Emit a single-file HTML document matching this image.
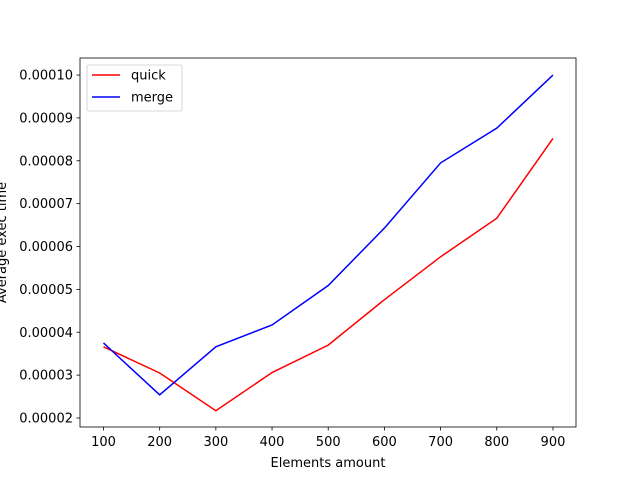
<!DOCTYPE html>
<html><head><meta charset="utf-8"><style>
body{margin:0;background:#fff}
svg text{font-family:"DejaVu Sans","Liberation Sans",sans-serif;font-size:13px;fill:#000}
</style></head><body>
<svg id="chart" width="640" height="480" xmlns="http://www.w3.org/2000/svg">
<rect width="640" height="480" fill="#fff"/>
<g id="plot"></g>
</svg>
<script>
const categories=[100,200,300,400,500,600,700,800,900];
const quickValues=[3.66e-5,3.05e-5,2.17e-5,3.06e-5,3.70e-5,4.76e-5,5.76e-5,6.66e-5,8.52e-5];
const mergeValues=[3.75e-5,2.54e-5,3.66e-5,4.17e-5,5.09e-5,6.43e-5,7.95e-5,8.76e-5,1.0e-4];
const xTicks=[100,200,300,400,500,600,700,800,900];
const yTicks=[2e-5,3e-5,4e-5,5e-5,6e-5,7e-5,8e-5,9e-5,1e-4];
const yTickLabels=["0.00002","0.00003","0.00004","0.00005","0.00006","0.00007","0.00008","0.00009","0.00010"];

const L=80,R=576,T=58,B=427;
const xMin=58.2,xMax=941.0,yMin=1.79e-5,yMax=1.0397e-4;
const xs=v=>L+(v-xMin)/(xMax-xMin)*(R-L);
const ys=v=>B-(v-yMin)/(yMax-yMin)*(B-T);
const NS="http://www.w3.org/2000/svg";
const g=document.getElementById('plot');
function mk(tag,attrs,parent){const e=document.createElementNS(NS,tag);for(const k in attrs)e.setAttribute(k,attrs[k]);(parent||g).appendChild(e);return e;}

xTicks.forEach(v=>{
  const x=xs(v);
  const t=mk('line',{x1:x,x2:x,y1:B,y2:B+3.5,stroke:'#000','stroke-width':0.8});
  
  
  const l=mk('text',{x:x,y:B+19,'text-anchor':'middle'});l.textContent=v;
  
  
});
yTicks.forEach((v,i)=>{
  const y=ys(v);
  const t=mk('line',{x1:L-3.5,x2:L,y1:y,y2:y,stroke:'#000','stroke-width':0.8});
  
  
  const l=mk('text',{x:L-7,y:y+4.5,'text-anchor':'end'});l.textContent=yTickLabels[i];
  
  
});
function series(vals,color,name){
  const p=mk('polyline',{points:categories.map((c,i)=>xs(c)+','+ys(vals[i])).join(' '),fill:'none',stroke:color,'stroke-width':1.5});
  
  
}
series(quickValues,'#ff0000','quick-line');
series(mergeValues,'#0000ff','merge-line');
const frame=mk('rect',{x:L,y:T,width:R-L,height:B-T,fill:'none',stroke:'#000','stroke-width':0.8});


const xl=mk('text',{x:(L+R)/2,y:467,'text-anchor':'middle'});xl.textContent='Elements amount';


const yl=mk('text',{x:0,y:0,'text-anchor':'middle',transform:'translate(6,'+((T+B)/2)+') rotate(-90)'});yl.textContent='Average exec time';


const lg=mk('g',{});


mk('rect',{x:87,y:65,width:95,height:46,rx:2,fill:'#fff',stroke:'#ccc','stroke-width':0.8},lg);
[['quick','#ff0000',75],['merge','#0000ff',97]].forEach(([n,c,y])=>{
  const e=mk('g',{},lg);
  
  
  mk('line',{x1:92,x2:120,y1:y,y2:y,stroke:c,'stroke-width':1.5},e);
  const t=mk('text',{x:131,y:y+4.5},e);t.textContent=n;
});
</script>
</body></html>
